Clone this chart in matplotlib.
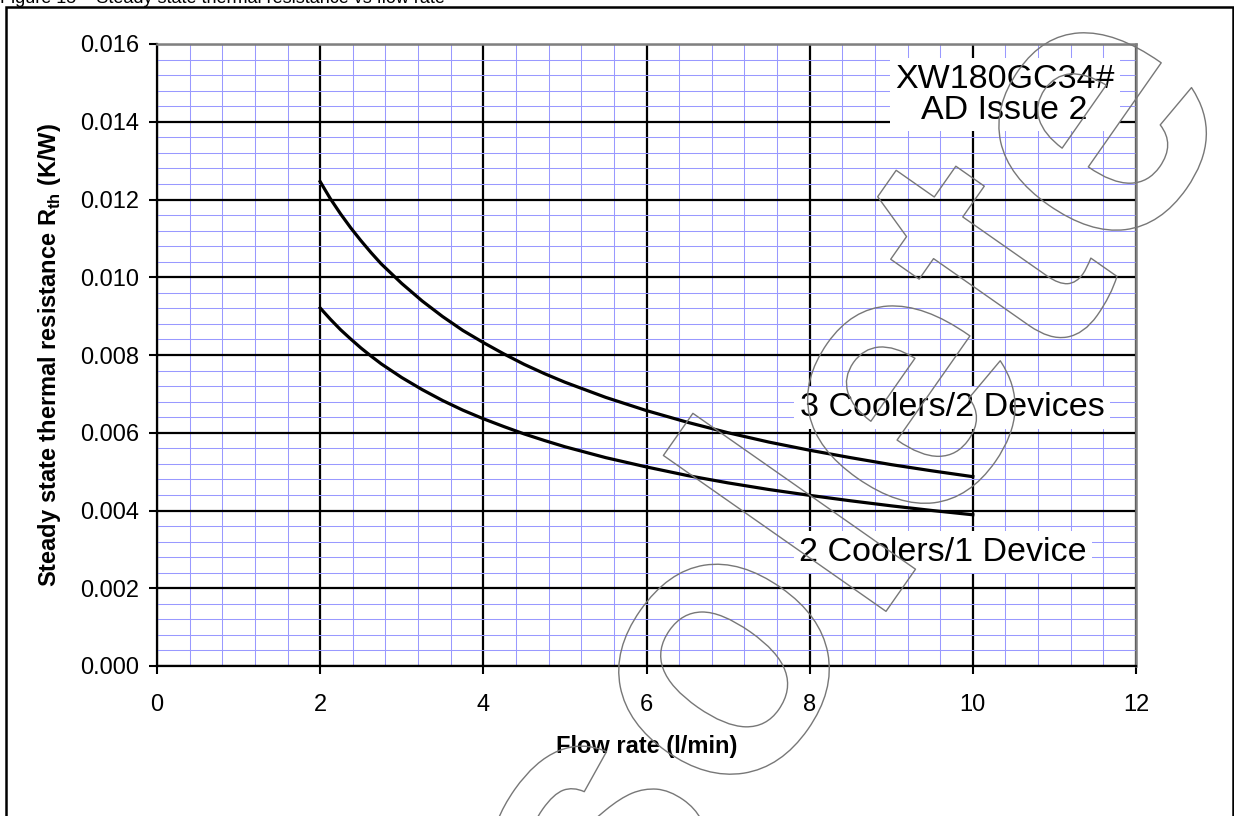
import matplotlib
matplotlib.use("Agg")
import matplotlib.pyplot as plt
from matplotlib.ticker import MultipleLocator
from matplotlib.patches import Rectangle
import matplotlib.patheffects as pe

plt.rcParams['font.family'] = ['Liberation Sans', 'DejaVu Sans']
plt.rcParams['mathtext.fontset'] = 'custom'
plt.rcParams['mathtext.rm'] = 'Liberation Sans'
plt.rcParams['mathtext.bf'] = 'Liberation Sans:bold'

# Flow rate (l/min) and thermal resistance (K/W)
flow = [2.0, 2.125, 2.25, 2.375, 2.5, 2.625, 2.75, 3.0, 3.25, 3.5, 3.75,
        4.0, 4.25, 4.5, 4.75, 5.0, 5.5, 6.0, 6.5, 7.0, 7.5, 8.0, 8.5,
        9.0, 9.5, 10.0]
rth_3c2d = [0.01246, 0.01202, 0.01163, 0.01127, 0.01094, 0.01063, 0.01034,
            0.00984, 0.00939, 0.00899, 0.00863, 0.00832, 0.00803, 0.00776,
            0.00752, 0.00730, 0.00691, 0.00657, 0.00627, 0.00600, 0.00576,
            0.00555, 0.00536, 0.00518, 0.00502, 0.00487]
rth_2c1d = [0.00921, 0.00892, 0.00865, 0.00841, 0.00818, 0.00797, 0.00777,
            0.00742, 0.00711, 0.00683, 0.00658, 0.00636, 0.00616, 0.00597,
            0.00580, 0.00564, 0.00536, 0.00512, 0.00490, 0.00471, 0.00454,
            0.00439, 0.00425, 0.00412, 0.00400, 0.00389]

x_ticks = [0, 2, 4, 6, 8, 10, 12]
y_ticks = [0.000, 0.002, 0.004, 0.006, 0.008, 0.010, 0.012, 0.014, 0.016]

fig = plt.figure(figsize=(12.34, 8.16), dpi=100)
ax = fig.add_axes([157 / 1234, 150 / 816, 979 / 1234, 622 / 816])

ax.plot(flow, rth_3c2d, color='black', lw=2.3, zorder=3)
ax.plot(flow, rth_2c1d, color='black', lw=2.3, zorder=3)

ax.set_xlim(0, 12)
ax.set_ylim(0, 0.016)
ax.set_xticks(x_ticks)
ax.set_yticks(y_ticks)
ax.set_xticklabels([str(v) for v in x_ticks])
ax.set_yticklabels(['%.3f' % v for v in y_ticks])
ax.xaxis.set_minor_locator(MultipleLocator(0.4))
ax.yaxis.set_minor_locator(MultipleLocator(0.0004))

ax.set_axisbelow(True)
ax.grid(which='minor', color='#9999ff', lw=0.75)
ax.grid(which='major', color='black', lw=1.6)
ax.tick_params(which='minor', length=0)
ax.tick_params(which='major', direction='out', length=6, width=1.5,
               color='black', labelsize=17)
ax.tick_params(axis='x', pad=14)
ax.tick_params(axis='y', pad=7)

for side in ['left', 'bottom']:
    ax.spines[side].set_linewidth(1.6)
    ax.spines[side].set_color('black')
for side in ['top', 'right']:
    ax.spines[side].set_linewidth(1.8)
    ax.spines[side].set_color('#808080')

ax.set_xlabel('Flow rate (l/min)', fontsize=17, fontweight='bold', labelpad=14)
ax.set_ylabel(r'Steady state thermal resistance R$_{\mathbf{th}}$ (K/W)',
              fontsize=17, fontweight='bold', labelpad=12)

box = dict(facecolor='white', edgecolor='none', pad=4)
ax.text(10.39, 0.01469, 'XW180GC34#\nAD Issue 2', fontsize=24.5,
        ha='center', va='center', linespacing=1.0, bbox=box, zorder=4)
ax.text(9.745, 0.006637, '3 Coolers/2 Devices', fontsize=24.5,
        ha='center', va='center', bbox=box, zorder=4)
ax.text(9.635, 0.002932, '2 Coolers/1 Device', fontsize=24.5,
        ha='center', va='center', bbox=box, zorder=4)

# caption cut off at top of page and frame around figure
fig.text(0.0, 1 - 3 / 816, 'Figure 15 \u2013 Steady state thermal resistance vs flow rate',
         fontsize=13, va='baseline', ha='left')
fig.patches.append(Rectangle((6 / 1234, -0.01), 1227 / 1234, 1.01 - 6.5 / 816,
                             transform=fig.transFigure, fill=False,
                             edgecolor='black', lw=1.8))

# outlined watermark
fig.text(702 / 1234, 1 - 705 / 816, 'Obsolete', fontsize=270, fontweight='bold',
         color=(1, 1, 1, 0), rotation=55, rotation_mode='anchor',
         ha='center', va='center', zorder=10,
         path_effects=[pe.Stroke(linewidth=1.0, foreground='#777777')])

fig.savefig('out.png', dpi=100)
